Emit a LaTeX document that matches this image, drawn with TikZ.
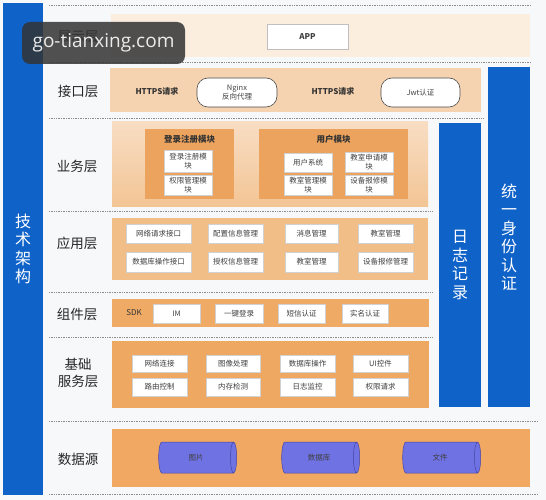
\documentclass[tikz,border=0pt]{standalone}
\usepackage{fontspec}
\setmainfont{Noto Sans CJK SC}
\newfontfamily\wmfont{Open Sans}
\usetikzlibrary{shapes.geometric}

\definecolor{bgcol}{HTML}{F7F8FA}
\definecolor{barblue}{HTML}{0F62C8}
\definecolor{appfill}{HTML}{FBEEDF}
\definecolor{iffill}{HTML}{F6D3B0}
\definecolor{biztop}{HTML}{F8DDC3}
\definecolor{bizbot}{HTML}{F3C595}
\definecolor{applfill}{HTML}{F2BE88}
\definecolor{compfill}{HTML}{EFAB66}
\definecolor{basefill}{HTML}{EFA861}
\definecolor{datafill}{HTML}{F0A862}
\definecolor{modfill}{HTML}{ECA35E}
\definecolor{cylfill}{HTML}{6F72E2}
\definecolor{cylline}{HTML}{4646A6}

\begin{document}
\begin{tikzpicture}[x=1pt,y=-1pt,
  band/.style={inner sep=0pt},
  layername/.style={font=\fontsize{13.5}{17}\selectfont, text=black!85, align=center},
  sidebar/.style={fill=barblue, text=white, inner sep=0pt, align=center, font=\fontsize{16}{18.5}\selectfont},
  cell/.style={fill=white, draw=black!18, line width=0.4pt, inner sep=0pt, align=center, text=black!75, font=\fontsize{7.5}{8.5}\selectfont},
  pill/.style={fill=white, draw=black!70, line width=0.6pt, rounded corners=11pt, inner sep=0pt, align=center, text=black!75, font=\fontsize{7.5}{8.5}\selectfont},
  plain/.style={font=\bfseries\fontsize{8}{9}\selectfont, text=black!80},
  module/.style={fill=modfill, inner sep=0pt},
  sep/.style={draw=black!45, line width=0.7pt, dash pattern=on 0.7pt off 1pt},
  store/.style={cylinder, shape aspect=0.9, fill=cylfill, draw=cylline, line width=0.5pt, inner sep=0pt, text=black!75, font=\fontsize{7.5}{8.5}\selectfont}]
  \useasboundingbox[fill=bgcol] (0,0) rectangle (546,500);

  % 技术架构
  \node[sidebar, minimum width=40, minimum height=492] (tech) at (23,249) {技\\术\\架\\构};

  % 分隔线
  \draw[sep] (49,5) -- (531,5);
  \draw[sep] (49,62) -- (531,62);
  \draw[sep] (49,118) -- (483,118);
  \draw[sep] (49,211) -- (433,211);
  \draw[sep] (49,292) -- (433,292);
  \draw[sep] (49,337) -- (433,337);
  \draw[sep] (49,421) -- (537,421);
  \draw[sep] (49,494) -- (537,494);

  % 日志记录 / 统一身份认证
  \node[sidebar, minimum width=42, minimum height=284] (logbar) at (460,265) {日\\志\\记\\录};
  \node[sidebar, minimum width=42, minimum height=340] (authbar) at (509,237) {统\\一\\身\\份\\认\\证};

  % 展示层
  \node[band, fill=appfill, minimum width=419, minimum height=43] (showband) at (320.5,35.5) {};
  \node[layername] (showname) at (78,37) {展示层};
  \node[cell, draw=black!25, font=\bfseries\fontsize{8}{9}\selectfont, minimum width=81, minimum height=25] (app) at (307.5,36.5) {APP};

  % 接口层
  \node[band, fill=iffill, minimum width=371, minimum height=44] (ifband) at (295.5,90) {};
  \node[layername] (ifname) at (78,91) {接口层};
  \node[plain] (https1) at (157,91) {HTTPS请求};
  \node[pill, minimum width=80, minimum height=29] (nginx) at (237,92.5) {Nginx\\反向代理};
  \node[plain] (https2) at (333,91) {HTTPS请求};
  \node[pill, minimum width=79, minimum height=29] (jwt) at (420.5,92.5) {Jwt认证};

  % 业务层
  \node[band, top color=biztop, bottom color=bizbot, minimum width=316, minimum height=84] (bizband) at (270,164) {};
  \node[layername] (bizname) at (77,166) {业务层};
  \node[module, minimum width=89, minimum height=70] (loginmod) at (189.5,164) {};
  \node[plain, font=\bfseries\fontsize{8.5}{9}\selectfont] (logintitle) at (189.5,139) {登录注册模块};
  \node[cell, minimum width=48, minimum height=22] (login) at (188,161) {登录注册模\\块};
  \node[cell, minimum width=48, minimum height=20] (perm) at (188,185) {权限管理模\\块};
  \node[module, minimum width=149, minimum height=70] (usermod) at (333.5,164) {};
  \node[plain, font=\bfseries\fontsize{8.5}{9}\selectfont] (usertitle) at (333.5,139) {用户模块};
  \node[cell, minimum width=48, minimum height=19] (usersys) at (308,162.5) {用户系统};
  \node[cell, minimum width=48, minimum height=20] (roomapply) at (369,162) {教室申请模\\块};
  \node[cell, minimum width=48, minimum height=20] (roommgr) at (308,185) {教室管理模\\块};
  \node[cell, minimum width=48, minimum height=20] (repair) at (369,185) {设备报修模\\块};

  % 应用层
  \node[band, fill=applfill, minimum width=316, minimum height=62] (applband) at (270,249) {};
  \node[layername] (applname) at (77,243) {应用层};
  \node[cell, minimum width=65, minimum height=19] (netapi) at (158.5,233.5) {网络请求接口};
  \node[cell, minimum width=55, minimum height=19] (config) at (235.5,233.5) {配置信息管理};
  \node[cell, minimum width=53, minimum height=19] (msg) at (311.5,233.5) {消息管理};
  \node[cell, minimum width=55, minimum height=19] (room1) at (385.5,233.5) {教室管理};
  \node[cell, minimum width=65, minimum height=20] (dbapi) at (158.5,262) {数据库操作接口};
  \node[cell, minimum width=55, minimum height=20] (auth) at (235.5,262) {授权信息管理};
  \node[cell, minimum width=53, minimum height=20] (room2) at (311.5,262) {教室管理};
  \node[cell, minimum width=55, minimum height=20] (repairmgr) at (385.5,262) {设备报修管理};

  % 组件层
  \node[band, fill=compfill, minimum width=317, minimum height=28] (compband) at (270.5,313) {};
  \node[layername] (compname) at (77,314) {组件层};
  \node[plain, font=\fontsize{8}{9}\selectfont] (sdk) at (134,313) {SDK};
  \node[cell, minimum width=47, minimum height=19] (im) at (176.5,313.5) {IM};
  \node[cell, minimum width=48, minimum height=19] (onekey) at (239,313.5) {一键登录};
  \node[cell, minimum width=47, minimum height=19] (sms) at (301.5,313.5) {短信认证};
  \node[cell, minimum width=46, minimum height=19] (realname) at (365,313.5) {实名认证};

  % 基础服务层
  \node[band, fill=basefill, minimum width=317, minimum height=67] (baseband) at (270.5,374.5) {};
  \node[layername] (basename) at (78,373) {基础\\服务层};
  \node[cell, minimum width=55, minimum height=17] (netconn) at (159.5,363.5) {网络连接};
  \node[cell, minimum width=54, minimum height=17] (image) at (233,363.5) {图像处理};
  \node[cell, minimum width=55, minimum height=17] (dbop) at (307.5,363.5) {数据库操作};
  \node[cell, minimum width=55, minimum height=17] (ui) at (380.5,363.5) {UI控件};
  \node[cell, minimum width=55, minimum height=18] (route) at (159.5,387) {路由控制};
  \node[cell, minimum width=54, minimum height=18] (memory) at (233,387) {内存检测};
  \node[cell, minimum width=55, minimum height=18] (logmon) at (307.5,387) {日志监控};
  \node[cell, minimum width=55, minimum height=18] (permreq) at (380.5,387) {权限请求};

  % 数据源
  \node[band, fill=datafill, minimum width=418, minimum height=58] (databand) at (321,458) {};
  \node[layername] (dataname) at (78,459) {数据源};
  \node[store, minimum width=31, minimum height=78] (pics) at (196,457.5) {图片};
  \node[store, minimum width=31, minimum height=78] (db) at (319,457.5) {数据库};
  \node[store, minimum width=31, minimum height=78] (files) at (440,457.5) {文件};

  % 水印
  \node[fill=black!80, fill opacity=0.85, text opacity=1, rounded corners=8pt, minimum width=163, minimum height=42, inner sep=0pt, text=black!8, font=\wmfont\fontsize{19}{22}\selectfont] (mark) at (103.5,43) {go-tianxing.com};
\end{tikzpicture}
\end{document}
